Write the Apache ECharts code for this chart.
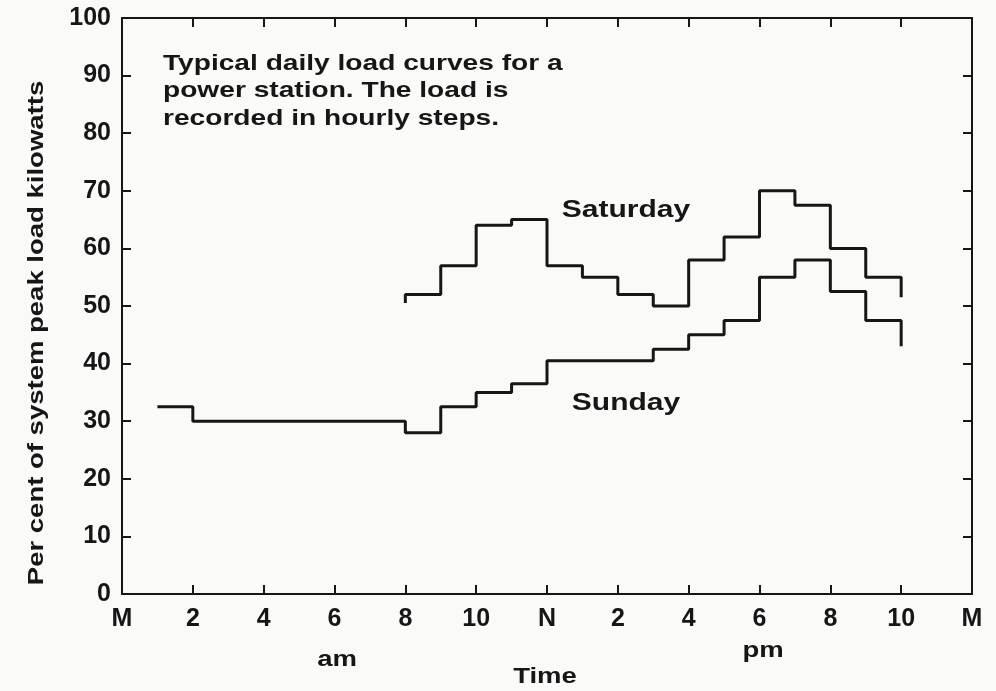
<!DOCTYPE html>
<html>
<head>
<meta charset="utf-8">
<title>Daily load curves</title>
<script src="https://cdn.jsdelivr.net/npm/echarts@6/dist/echarts.min.js"></script>
</head>
<body style="margin:0;background:#fafaf8">
<div id="chart" style="width:996px;height:691px"></div>
<script>
// tick labels every 2 hours, M = midnight, N = noon
var hourTicks = ['M', '2', '4', '6', '8', '10', 'N', '2', '4', '6', '8', '10', 'M'];

// hourly steps: value holds from this hour to the next one
var saturdayHours = [8, 8, 9, 10, 11, 12, 13, 14, 15, 16, 17, 18, 19, 20, 21, 22];
var saturdayLoad  = [50.5, 52, 57, 64, 65, 57, 55, 52, 50, 58, 62, 70, 67.5, 60, 55, 51.5];

var sundayHours = [1, 2, 3, 4, 5, 6, 7, 8, 9, 10, 11, 12, 13, 14, 15, 16, 17, 18, 19, 20, 21, 22];
var sundayLoad  = [32.5, 30, 30, 30, 30, 30, 30, 28, 32.5, 35, 36.5, 40.5, 40.5, 40.5, 42.5, 45, 47.5, 55, 58, 52.5, 47.5, 43];

function pairs(xs, ys) {
    var out = [];
    for (var i = 0; i < xs.length; i++) out.push([xs[i], ys[i]]);
    return out;
}

var ink = '#161616';
var fontName = '"Liberation Sans", Arial, sans-serif';

var chart = echarts.init(document.getElementById('chart'));

function axisX(pos, showLabel) {
    return {
        type: 'value', position: pos, min: 0, max: 24, interval: 2,
        axisLine: { show: true, onZero: false, lineStyle: { color: ink, width: 2 } },
        axisTick: { show: true, inside: true, length: 9, lineStyle: { color: ink, width: 2 } },
        splitLine: { show: false },
        axisLabel: {
            show: showLabel, margin: 13, color: ink, fontSize: 25, fontWeight: 'bold', fontFamily: fontName,
            formatter: function (v) { return hourTicks[Math.round(v / 2)]; }
        }
    };
}
function axisY(pos, showLabel) {
    return {
        type: 'value', position: pos, min: 0, max: 100, interval: 10,
        axisLine: { show: true, onZero: false, lineStyle: { color: ink, width: 2 } },
        axisTick: { show: true, inside: true, length: 9, lineStyle: { color: ink, width: 2 } },
        splitLine: { show: false },
        axisLabel: { show: showLabel, margin: 11, color: ink, fontSize: 25, fontWeight: 'bold', fontFamily: fontName }
    };
}

function label(text, x, y, size, rot) {
    return {
        type: 'text', x: x, y: y, rotation: rot || 0, scaleX: 1.25,
        style: {
            text: text, textAlign: 'center', textVerticalAlign: 'middle',
            fill: ink, fontSize: size, fontWeight: 'bold', fontFamily: fontName
        }
    };
}

var option = {
    backgroundColor: '#fafaf8',
    animation: false,
    grid: { left: 122, right: 24, top: 18, bottom: 97 },
    xAxis: [axisX('bottom', true), axisX('top', false)],
    yAxis: [axisY('left', true), axisY('right', false)],
    series: [
        {
            name: 'Saturday', type: 'line', step: 'end', symbol: 'none',
            lineStyle: { color: ink, width: 3 },
            data: pairs(saturdayHours, saturdayLoad)
        },
        {
            name: 'Sunday', type: 'line', step: 'end', symbol: 'none',
            lineStyle: { color: ink, width: 3 },
            data: pairs(sundayHours, sundayLoad)
        }
    ],
    graphic: [
        {
            type: 'text', x: 163, y: 50, scaleX: 1.25,
            style: {
                text: 'Typical daily load curves for a\npower station. The load is\nrecorded in hourly steps.',
                lineHeight: 27.5, fill: ink, fontSize: 22.5, fontWeight: 'bold', fontFamily: fontName
            }
        },
        label('Saturday', 626, 210, 24),
        label('Sunday', 626, 403, 24),
        label('Per cent of system peak load kilowatts', 37, 333, 22, Math.PI / 2),
        label('am', 337, 660, 22),
        label('pm', 763, 651, 22),
        label('Time', 545, 677, 22)
    ]
};

chart.setOption(option);
</script>
</body>
</html>
